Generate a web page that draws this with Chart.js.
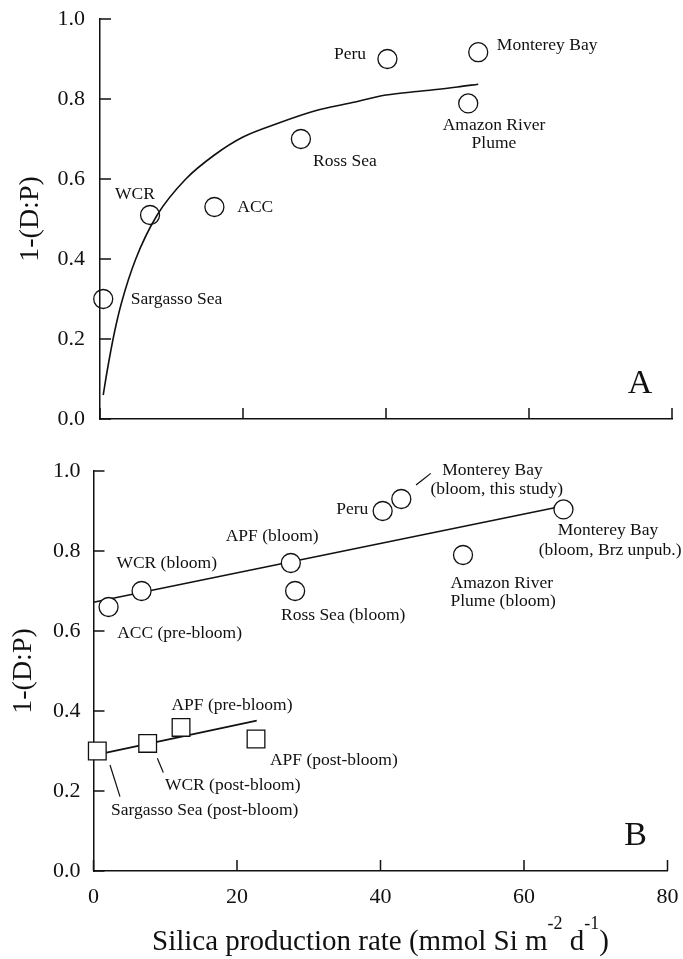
<!DOCTYPE html>
<html>
<head>
<meta charset="utf-8">
<script src="https://cdn.jsdelivr.net/npm/chart.js@4.4.0/dist/chart.umd.min.js"></script>
<style>
  html, body { margin: 0; padding: 0; background: #fff; }
  #wrap { position: relative; width: 683px; height: 959px; }
  canvas { position: absolute; left: 0; }
  #chart-a { top: 0; }
  #chart-b { top: 440px; }
</style>
</head>
<body>
<div id="wrap">
  <canvas id="chart-a" width="683" height="440"></canvas>
  <canvas id="chart-b" width="683" height="519"></canvas>
</div>
<script>
// ── Data: panel A ───────────────────────────────────────────────────
const sitesA    = ['Sargasso Sea', 'WCR', 'ACC', 'Ross Sea', 'Peru', 'Monterey Bay', 'Amazon River Plume'];
const prodA     = [0.45, 7.0, 16.0, 28.1, 40.2, 52.9, 51.5];
const ratioA    = [0.30, 0.51, 0.53, 0.70, 0.90, 0.917, 0.789];
// fitted curve, read along its length
const curveProdA  = [0.45, 1, 2, 3, 5, 8, 12, 16, 20, 25, 30, 35, 40, 45, 50, 52.9];
const curveRatioA = [0.06, 0.12, 0.215, 0.29, 0.40, 0.51, 0.60, 0.66, 0.705, 0.74, 0.77, 0.79, 0.81, 0.82, 0.83, 0.837];

// ── Data: panel B ───────────────────────────────────────────────────
const sitesBloom = ['ACC (pre-bloom)', 'WCR (bloom)', 'APF (bloom)', 'Ross Sea (bloom)', 'Peru',
                    'Monterey Bay (bloom, this study)', 'Amazon River Plume (bloom)', 'Monterey Bay (bloom, Brz unpub.)'];
const prodBloom  = [2.1, 6.7, 27.5, 28.1, 40.3, 42.9, 51.5, 65.5];
const ratioBloom = [0.66, 0.70, 0.77, 0.70, 0.90, 0.93, 0.79, 0.904];
const lineBloomX = [0, 65.3];
const lineBloomY = [0.672, 0.912];

const sitesPost  = ['Sargasso Sea (post-bloom)', 'WCR (post-bloom)', 'APF (pre-bloom)', 'APF (post-bloom)'];
const prodPost   = [0.53, 7.55, 12.2, 22.65];
const ratioPost  = [0.30, 0.319, 0.359, 0.33];
const linePostX  = [0.5, 22.75];
const linePostY  = [0.291, 0.376];

// short leader lines tying labels to their points (panel B)
const leaderMontereyX = [44.95, 47.0],  leaderMontereyY = [0.965, 0.994];
const leaderSargassoX = [2.3, 3.69],    leaderSargassoY = [0.265, 0.186];
const leaderWcrPostX  = [8.9, 9.73],    leaderWcrPostY  = [0.282, 0.246];

// ── Axes ────────────────────────────────────────────────────────────
const xTicks = [0, 20, 40, 60, 80];
const yTicks = [0, 0.2, 0.4, 0.6, 0.8, 1.0];

const serif = "'Liberation Serif', 'Times New Roman', serif";
const ink = '#111';

const toXY = (xs, ys) => xs.map((x, i) => ({ x, y: ys[i] }));

// ── Label placement (data coordinates, text middle) ────────────────
const labelsA = [
  { text: 'Peru',          x: 37.2, y: 0.912, align: 'right' },
  { text: 'Monterey Bay',  x: 55.5, y: 0.935 },
  { text: 'Amazon River',  x: 55.1, y: 0.735, align: 'center' },
  { text: 'Plume',         x: 55.1, y: 0.690, align: 'center' },
  { text: 'Ross Sea',      x: 29.8, y: 0.645 },
  { text: 'WCR',           x: 2.1,  y: 0.5625 },
  { text: 'ACC',           x: 19.2, y: 0.530 },
  { text: 'Sargasso Sea',  x: 4.3,  y: 0.300 }
];
const labelsB = [
  { text: 'Monterey Bay',              x: 55.6, y: 1.0025, align: 'center' },
  { text: '(bloom, this study)',       x: 56.2, y: 0.954,  align: 'center' },
  { text: 'Peru',                      x: 38.3, y: 0.904,  align: 'right' },
  { text: 'Monterey Bay',              x: 71.7, y: 0.8525, align: 'center' },
  { text: '(bloom, Brz unpub.)',       x: 72.0, y: 0.8025, align: 'center' },
  { text: 'APF (bloom)',               x: 24.9, y: 0.836,  align: 'center' },
  { text: 'WCR (bloom)',               x: 10.2, y: 0.769,  align: 'center' },
  { text: 'ACC (pre-bloom)',           x: 12.0, y: 0.594,  align: 'center' },
  { text: 'Ross Sea (bloom)',          x: 34.8, y: 0.640,  align: 'center' },
  { text: 'Amazon River',              x: 56.9, y: 0.719,  align: 'center' },
  { text: 'Plume (bloom)',             x: 57.1, y: 0.673,  align: 'center' },
  { text: 'APF (pre-bloom)',           x: 19.3, y: 0.415,  align: 'center' },
  { text: 'APF (post-bloom)',          x: 33.5, y: 0.2775, align: 'center' },
  { text: 'WCR (post-bloom)',          x: 19.4, y: 0.215,  align: 'center' },
  { text: 'Sargasso Sea (post-bloom)', x: 15.5, y: 0.151,  align: 'center' }
];

// ── Plugin: inward ticks, point labels, panel letter, x title ──────
const paperPlugin = {
  id: 'paper',
  afterDraw(chart, args, opts) {
    const { ctx, chartArea: a } = chart;
    const x = chart.scales.x, y = chart.scales.y;
    ctx.save();
    ctx.strokeStyle = ink;
    ctx.lineWidth = 1.5;
    ctx.beginPath();
    yTicks.forEach(v => {
      const py = y.getPixelForValue(v);
      ctx.moveTo(a.left, py);
      ctx.lineTo(a.left + 11, py);
    });
    xTicks.forEach(v => {
      const px = x.getPixelForValue(v);
      ctx.moveTo(px, a.bottom);
      ctx.lineTo(px, a.bottom - 11);
    });
    ctx.stroke();

    ctx.fillStyle = ink;
    ctx.font = `17.5px ${serif}`;
    ctx.textBaseline = 'middle';
    opts.labels.forEach(l => {
      ctx.textAlign = l.align || 'left';
      ctx.fillText(l.text, x.getPixelForValue(l.x), y.getPixelForValue(l.y));
    });

    ctx.font = `34px ${serif}`;
    ctx.textAlign = 'center';
    ctx.textBaseline = 'alphabetic';
    ctx.fillText(opts.letter, a.right - 32, a.bottom - 26);

    if (opts.xTitle) {
      const parts = [
        { t: 'Silica production rate (mmol Si m', sup: false },
        { t: '-2', sup: true },
        { t: ' d', sup: false },
        { t: '-1', sup: true },
        { t: ')', sup: false }
      ];
      const big = `29px ${serif}`, small = `18px ${serif}`;
      let total = 0;
      parts.forEach(p => { ctx.font = p.sup ? small : big; p.w = ctx.measureText(p.t).width; total += p.w; });
      let cx = (a.left + a.right) / 2 - total / 2;
      const base = a.bottom + 79;
      ctx.textAlign = 'left';
      parts.forEach(p => {
        ctx.font = p.sup ? small : big;
        ctx.fillText(p.t, cx, p.sup ? base - 21 : base);
        cx += p.w;
      });
    }
    ctx.restore();
  }
};

function scalesFor(yWidth, xHeight, showX, labelPad, titlePad) {
  return {
    x: {
      type: 'linear', min: 0, max: 80,
      afterFit: s => { s.height = xHeight; s.paddingLeft = 0; s.paddingRight = 0; },
      grid: { display: false, drawTicks: false },
      border: { color: ink, width: 1.5 },
      ticks: { display: showX, stepSize: 20, padding: 13, color: ink, font: { family: serif, size: 22 } }
    },
    y: {
      type: 'linear', min: 0, max: 1,
      afterFit: s => { s.width = yWidth; s.paddingTop = 0; s.paddingBottom = 0; },
      grid: { display: false, drawTicks: false },
      border: { color: ink, width: 1.5 },
      ticks: { stepSize: 0.2, padding: labelPad, color: ink, font: { family: serif, size: 22 },
               callback: v => v.toFixed(1) },
      title: { display: true, text: '1-(D:P)', color: ink, padding: { top: titlePad, bottom: 0 },
               font: { family: serif, size: 28 } }
    }
  };
}

const circle = (data, fill) => ({
  data, pointStyle: 'circle', pointRadius: 9.5, pointBorderWidth: 1.3, clip: false,
  pointBorderColor: ink, pointBackgroundColor: fill, showLine: false
});
const square = data => ({
  data, pointStyle: 'rect', pointRadius: 12.5, pointBorderWidth: 1.3, clip: false,
  pointBorderColor: ink, pointBackgroundColor: '#fff', showLine: false
});
const line = (data, w) => ({
  data, showLine: true, borderColor: ink, borderWidth: w, pointRadius: 0, clip: false,
  cubicInterpolationMode: 'monotone', fill: false
});

const common = {
  responsive: false,
  animation: false,
  events: [],
  plugins: { legend: { display: false }, tooltip: { enabled: false } }
};

// ── Panel A ─────────────────────────────────────────────────────────
new Chart(document.getElementById('chart-a'), {
  type: 'scatter',
  data: {
    datasets: [
      circle(toXY(prodA, ratioA), 'rgba(0,0,0,0)'),
      line(toXY(curveProdA, curveRatioA), 1.6)
    ]
  },
  options: {
    ...common,
    layout: { padding: { left: 0, right: 11, top: 19, bottom: 0 } },
    scales: scalesFor(100, 21, false, 15, 13.5),
    plugins: { ...common.plugins, paper: { labels: labelsA, letter: 'A', xTitle: false } }
  },
  plugins: [paperPlugin]
});

// ── Panel B ─────────────────────────────────────────────────────────
new Chart(document.getElementById('chart-b'), {
  type: 'scatter',
  data: {
    datasets: [
      circle(toXY(prodBloom, ratioBloom), '#fff'),
      square(toXY(prodPost, ratioPost)),
      line(toXY(lineBloomX, lineBloomY), 1.6),
      line(toXY(linePostX, linePostY), 1.6),
      line(toXY(leaderMontereyX, leaderMontereyY), 1.2),
      line(toXY(leaderSargassoX, leaderSargassoY), 1.2),
      line(toXY(leaderWcrPostX, leaderWcrPostY), 1.2)
    ]
  },
  options: {
    ...common,
    layout: { padding: { left: 0, right: 15.5, top: 31, bottom: 0 } },
    scales: scalesFor(93.5, 88, true, 13, 6.5),
    plugins: { ...common.plugins, paper: { labels: labelsB, letter: 'B', xTitle: true } }
  },
  plugins: [paperPlugin]
});
</script>
</body>
</html>
